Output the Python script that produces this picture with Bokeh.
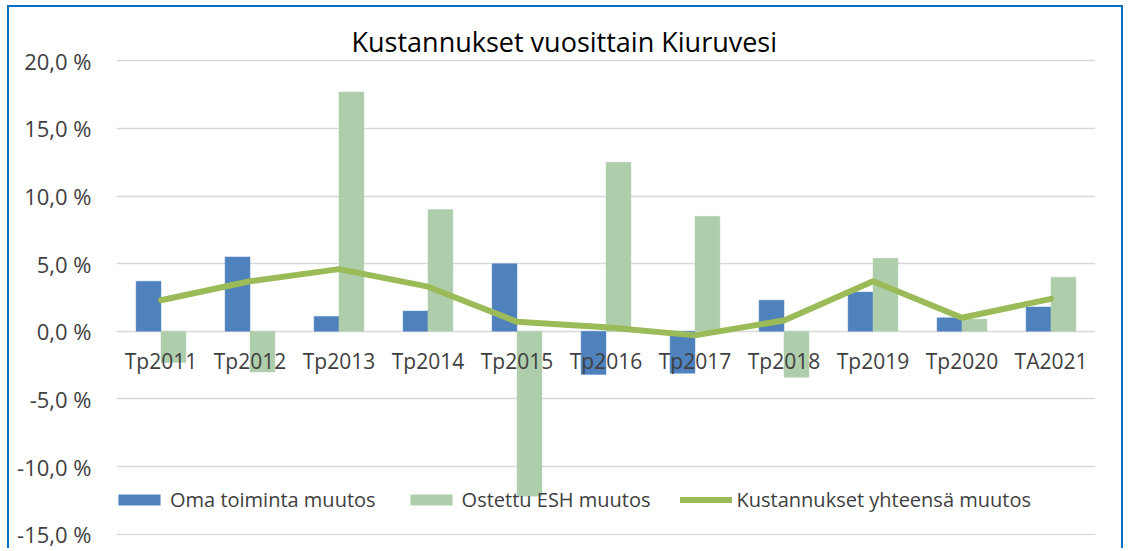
from bokeh.plotting import figure
from bokeh.models import FactorRange, FixedTicker, ColumnDataSource, Legend, LegendItem
from bokeh.transform import dodge
from bokeh.core.properties import value
from bokeh.embed import file_html
from bokeh.resources import INLINE

categories = ["Tp2011", "Tp2012", "Tp2013", "Tp2014", "Tp2015", "Tp2016",
              "Tp2017", "Tp2018", "Tp2019", "Tp2020", "TA2021"]
oma_toiminta = [3.7, 5.5, 1.1, 1.5, 5.0, -3.2, -3.1, 2.3, 2.9, 1.0, 1.8]
ostettu_esh = [-2.3, -3.0, 17.7, 9.0, -12.2, 12.5, 8.5, -3.4, 5.4, 0.9, 4.0]
yhteensa = [2.3, 3.7, 4.6, 3.3, 0.7, 0.3, -0.3, 0.8, 3.7, 1.0, 2.4]
y_ticks = [-15, -10, -5, 0, 5, 10, 15, 20]
y_tick_labels = ["-15,0 %", "-10,0 %", "-5,0 %", "0,0 %", "5,0 %", "10,0 %", "15,0 %", "20,0 %"]
title_text = "Kustannukset vuosittain Kiuruvesi"
series_names = ["Oma toiminta muutos", "Ostettu ESH muutos", "Kustannukset yhteensä muutos"]

FONT = "Open Sans"
TXT = "#404040"

src = ColumnDataSource(dict(cat=categories, oma=oma_toiminta, esh=ostettu_esh,
                            tot=yhteensa, zero=[0] * len(categories)))

p = figure(width=1116, height=543, x_range=FactorRange(*categories, range_padding=0),
           y_range=(-15.1, 20.1), output_backend="svg", toolbar_location=None,
           x_axis_location=None, min_border_left=107, min_border_right=30,
           min_border_top=52, min_border_bottom=15)
p.styles = {"margin-left": "7px", "margin-top": "5px",
            "border-top": "2px solid #0070C0", "border-left": "2px solid #0070C0",
            "border-right": "2px solid #0070C0"}

p.title.text = title_text
p.title.align = "left"
p.title.offset = 235
p.title.text_font = FONT
p.title.text_font_size = "27px"
p.title.text_font_style = "normal"
p.title.text_color = "#000000"
p.title.standoff = 0

p.outline_line_color = None
p.xgrid.visible = False
p.ygrid.ticker = FixedTicker(ticks=y_ticks)
p.ygrid.grid_line_color = "#D9D9D9"
p.ygrid.grid_line_width = 1.5

ax = p.yaxis[0]
ax.ticker = FixedTicker(ticks=y_ticks)
ax.major_label_overrides = {t: l for t, l in zip(y_ticks, y_tick_labels)}
ax.axis_line_color = None
ax.major_tick_line_color = None
ax.minor_tick_line_color = None
ax.major_tick_out = 0
ax.major_tick_in = 0
ax.major_label_standoff = 25
ax.major_label_text_font = FONT
ax.major_label_text_font_size = "22px"
ax.major_label_text_color = TXT

bw = 0.28
r1 = p.vbar(x=dodge("cat", -bw / 2, range=p.x_range), top="oma", width=bw, source=src,
            fill_color="#4F81BD", line_color="#5B8CC6", line_width=0.5)
r2 = p.vbar(x=dodge("cat", bw / 2, range=p.x_range), top="esh", width=bw, source=src,
            fill_color="#ADCDAB", line_color="#B5D3B3", line_width=0.5)
r3 = p.line(x="cat", y="tot", source=src, line_color="#9BBB59", line_width=6,
            line_cap="round", line_join="round")

p.text(x="cat", y="zero", text="cat", source=src, text_align="center",
       text_baseline="middle", y_offset=30, text_font=value(FONT),
       text_font_size="21px", text_color=TXT)

legend = Legend(items=[LegendItem(label=series_names[0], renderers=[r1]),
                       LegendItem(label=series_names[1], renderers=[r2]),
                       LegendItem(label=series_names[2], renderers=[r3])],
                orientation="horizontal", location=(-3, 22), padding=0, margin=0,
                spacing=29, label_standoff=5, glyph_width=52, glyph_height=13,
                label_text_font=FONT, label_text_font_size="20px", label_text_color=TXT,
                border_line_color=None, background_fill_alpha=0)
p.add_layout(legend, "center")

open("out.html", "w").write(file_html(p, INLINE))
